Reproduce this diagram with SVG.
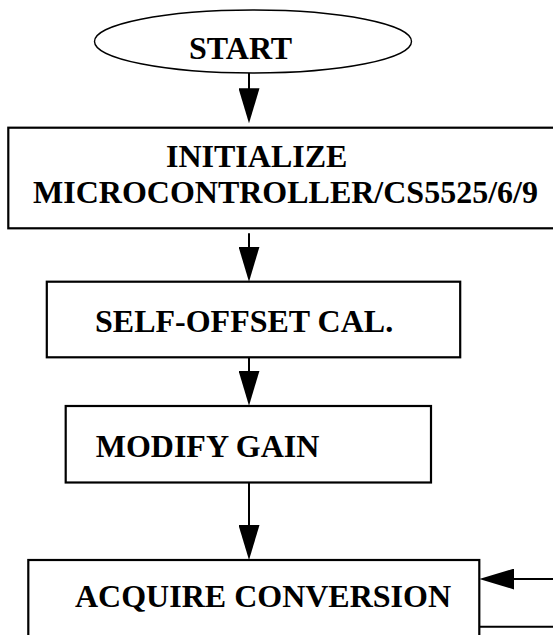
<svg xmlns="http://www.w3.org/2000/svg" width="553" height="635" viewBox="0 0 553 635">
  <style>
    .box { fill: #ffffff; stroke: #000000; stroke-width: 2.2; }
    .term { fill: #ffffff; stroke: #000000; stroke-width: 1.4; }
    .lbl { font-family: "Liberation Serif", "Times New Roman", serif; font-weight: bold; font-size: 32px; fill: #000000; }
    .conn { fill: none; stroke: #000000; stroke-width: 2; }
  </style>
  <defs>
    <marker id="arrow" markerUnits="userSpaceOnUse" markerWidth="35" markerHeight="21" viewBox="0 0 35 21" refX="25" refY="10.5" orient="auto">
      <path d="M0,0 L35,10.5 L0,21 Z" fill="#000000"/>
    </marker>
  </defs>
  <rect width="553" height="635" fill="#ffffff"/>

  <g id="start">
    <ellipse class="term" cx="253" cy="41.5" rx="158.5" ry="31.5"/>
    <text class="lbl" x="189" y="58.5">START</text>
  </g>

  <g id="initialize">
    <rect class="box" x="8.3" y="127.7" width="560" height="100.6"/>
    <text class="lbl" x="166" y="166.7">INITIALIZE</text>
    <text class="lbl" x="33" y="203">MICROCONTROLLER/CS5525/6/9</text>
  </g>

  <g id="self-offset">
    <rect class="box" x="46.8" y="281.7" width="413.4" height="75.6"/>
    <text class="lbl" x="95" y="331.7">SELF-OFFSET CAL.</text>
  </g>

  <g id="modify-gain">
    <rect class="box" x="65.7" y="406" width="365.3" height="76.5"/>
    <text class="lbl" x="95.7" y="456.7">MODIFY GAIN</text>
  </g>

  <g id="acquire">
    <rect class="box" x="28.3" y="560" width="451" height="90"/>
    <text class="lbl" x="75" y="606.7">ACQUIRE CONVERSION</text>
  </g>

  <g id="connectors">
    <line class="conn" x1="249" y1="73" x2="249" y2="113.3" marker-end="url(#arrow)"/>
    <line class="conn" x1="249" y1="233.3" x2="249" y2="271.7" marker-end="url(#arrow)"/>
    <line class="conn" x1="249" y1="357.3" x2="249" y2="395.7" marker-end="url(#arrow)"/>
    <line class="conn" x1="249" y1="482.5" x2="249" y2="550" marker-end="url(#arrow)"/>
    <line class="conn" x1="555" y1="579" x2="489.3" y2="579" marker-end="url(#arrow)"/>
    <line class="conn" x1="479.3" y1="626.7" x2="555" y2="626.7"/>
  </g>
</svg>
